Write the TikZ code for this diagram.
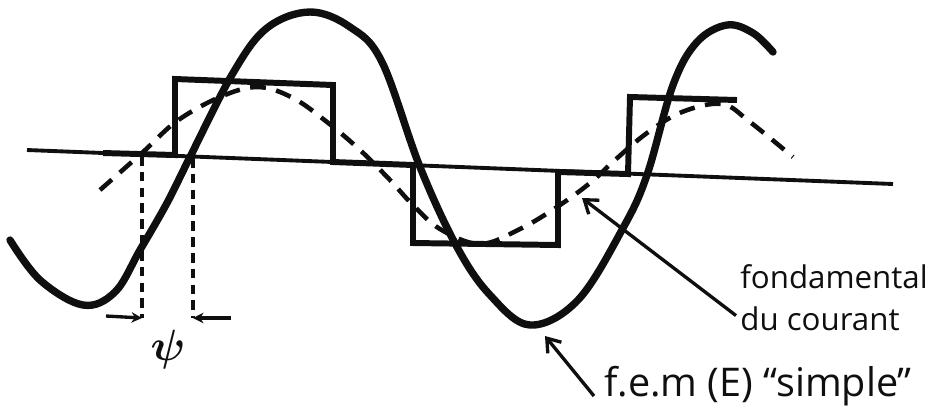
\documentclass[tikz,border=0pt]{standalone}
\usepackage{fontspec}
\setmainfont{Open Sans}
\usepackage{amsmath}
\usepackage{tikz}
\usetikzlibrary{arrows.meta, positioning}
\definecolor{inkdark}{RGB}{15,15,15}
\tikzset{
  axisline/.style={line width=2.2pt, color=inkdark},
  femcurve/.style={line width=4.2pt, color=inkdark, line cap=round},
  squarewave/.style={line width=3.4pt, color=inkdark, line join=miter},
  fundcurve/.style={line width=2.6pt, color=inkdark, dash pattern=on 9pt off 6pt},
  phaseline/.style={line width=1.8pt, color=inkdark, dash pattern=on 5.5pt off 3.5pt},
  phasearrow/.style={-{Stealth[length=6pt,width=6pt]}, line width=1.9pt, color=inkdark},
  callout/.style={-{Straight Barb[length=7pt,width=10pt]}, line width=1.9pt, color=inkdark},
  handtext/.style={font=\fontsize{17.8}{24}\selectfont, text=inkdark, inner sep=0pt, align=left}
}

\begin{document}
\begin{tikzpicture}[x=0.02cm, y=-0.02cm]
  \useasboundingbox (0,0) rectangle (927,414);

  % Axis (slightly tilted, as sketched)
  \draw[axisline] (27,150) -- (893,184);

  % Square wave current
  \draw[squarewave] (103,153) -- (175,155) -- (175,79) -- (333,85) -- (333,162)
    -- (413,165) -- (413,243) -- (558,245) -- (558,172) -- (628,174)
    -- (630,97) -- (737,100);

  % Fundamental of the current (dashed)
  \draw[fundcurve] plot[smooth, tension=0.6] coordinates {
    (100,190) (143,152) (177,121) (220,97) (258,87) (293,98) (327,122)
    (360,150) (390,180) (412,204) (440,229) (480,244) (520,229) (557,207)
    (590,183) (615,160) (647,133) (682,112) (722,104) (750,122) (793,157)};

  % E.m.f. "simple" (solid)
  \draw[femcurve] plot[smooth, tension=0.6] coordinates {
    (10,240) (40,280) (83,305) (115,292) (140,250) (167,203) (190,157)
    (233,73) (267,28) (310,12) (350,27) (382,62) (420,167) (457,247)
    (490,295) (530,325) (578,300) (623,228) (647,175) (673,85) (697,42)
    (727,25) (753,33) (773,52)};

  % Phase angle psi
  \coordinate (psiL) at (142,318);
  \coordinate (psiR) at (193,318);
  \coordinate (psiLtail) at (106,316);
  \coordinate (psiRtail) at (231,318);
  \draw[phaseline] (142,156) -- (psiL);
  \draw[phaseline] (193,158) -- (psiR);
  \draw[phasearrow] (psiLtail) -- (psiL);
  \draw[phasearrow] (psiRtail) -- (psiR);
  \node[text=inkdark, font=\fontsize{34}{34}\selectfont] (psilbl) at (168,350) {$\boldsymbol{\psi}$};

  % Labels and callouts
  \node[handtext, anchor=north west] (fondlbl) at (740,264) {fondamental\\du courant};
  \node[handtext, font=\fontsize{22.5}{26}\selectfont, anchor=west] (femlbl) at (604,386) {f.e.m (E) “simple”};
  \coordinate (fondtip) at (582,198);
  \coordinate (femtip) at (545,336);
  \draw[callout] (fondlbl.west) ++(-4,18) -- (fondtip);
  \draw[callout] (femlbl.west) ++(-10,10) -- (femtip);
\end{tikzpicture}
\end{document}
